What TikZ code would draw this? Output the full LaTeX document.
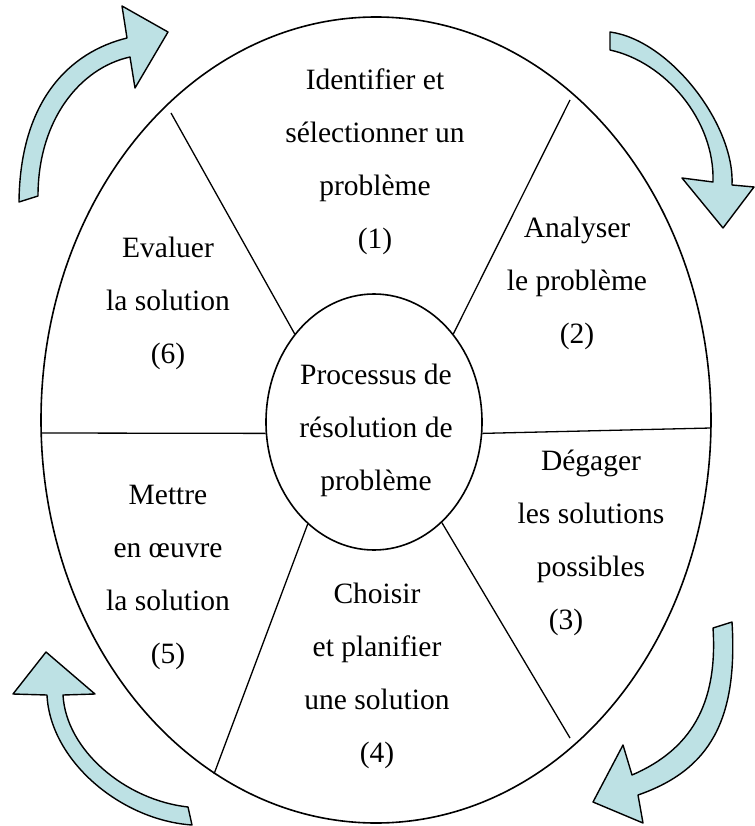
\documentclass[tikz,border=0pt]{standalone}
\usepackage{fontspec}
\setmainfont{Liberation Serif}
\usetikzlibrary{shapes.geometric}
\definecolor{arrowfill}{RGB}{189,225,228}
\tikzstyle{every picture}+=[x=1pt,y=-1pt]
\tikzstyle{every picture}+=[line width=1.3pt]
\tikzstyle{every picture}+=[join=round]
\tikzstyle{rim}=[draw,ellipse,inner sep=0pt,line width=1.6pt]
\tikzstyle{sector}=[align=center,inner sep=0pt,font=\fontsize{29.5}{53}\selectfont]
\tikzstyle{turnarrow}=[draw,fill=arrowfill,line width=1.4pt]
\begin{document}
\begin{tikzpicture}
\useasboundingbox (0,0) rectangle (754,826);

\node[rim,minimum width=670pt,minimum height=806pt] (rim) at (376,420) {};
\node[rim,minimum width=216pt,minimum height=256pt] (core) at (374,422) {};
\node[sector] (coretext) at (376,430) {Processus de\\résolution de\\problème};

\coordinate (o1) at (171,113);
\coordinate (o2) at (570,100);
\coordinate (o3) at (711,428);
\coordinate (o4) at (570,738);
\coordinate (o5) at (214,774);
\coordinate (o6) at (42,433);

\draw (core.132) -- (o1);
\draw (core.48) -- (o2);
\draw (core.354) -- (o3);
\draw (core.304) -- (o4);
\draw (core.237) -- (o5);
\draw (core.186) -- (o6);

\node[sector] (s1) at (375,162) {Identifier et\\sélectionner un\\problème\\(1)};
\node[sector] (s2) at (577,283) {Analyser\\le problème\\(2)};
\node[sector] (s3) at (591,543) {Dégager\\les solutions\\possibles\\(3)\hspace*{50pt}};
\node[sector] (s4) at (377,676) {Choisir\\et planifier\\une solution\\(4)};
\node[sector] (s5) at (168,577) {Mettre\\en œuvre\\la solution\\(5)};
\node[sector] (s6) at (168,303) {Evaluer\\la solution\\(6)};

\draw[turnarrow] (19,202) .. controls (20,100) and (70,52) .. (127,38) -- (122,6) -- (168,32) -- (135,88) -- (130,57) .. controls (80,68) and (38,120) .. (38,196) -- cycle;
\draw[turnarrow] (610,32) .. controls (670,40) and (735,125) .. (732,185) -- (754,187) -- (723,228) -- (682,178) -- (713,182) .. controls (715,120) and (665,62) .. (610,50) -- cycle;
\draw[turnarrow] (713,628) .. controls (718,705) and (690,750) .. (632,775) -- (623,745) -- (593,802) -- (643,823) -- (638,795) .. controls (710,770) and (738,720) .. (732,622) -- cycle;
\draw[turnarrow] (192,825) .. controls (120,820) and (50,760) .. (47,695) -- (13,694) -- (46,652) -- (95,694) -- (63,695) .. controls (66,750) and (125,800) .. (188,807) -- cycle;
\end{tikzpicture}
\end{document}
